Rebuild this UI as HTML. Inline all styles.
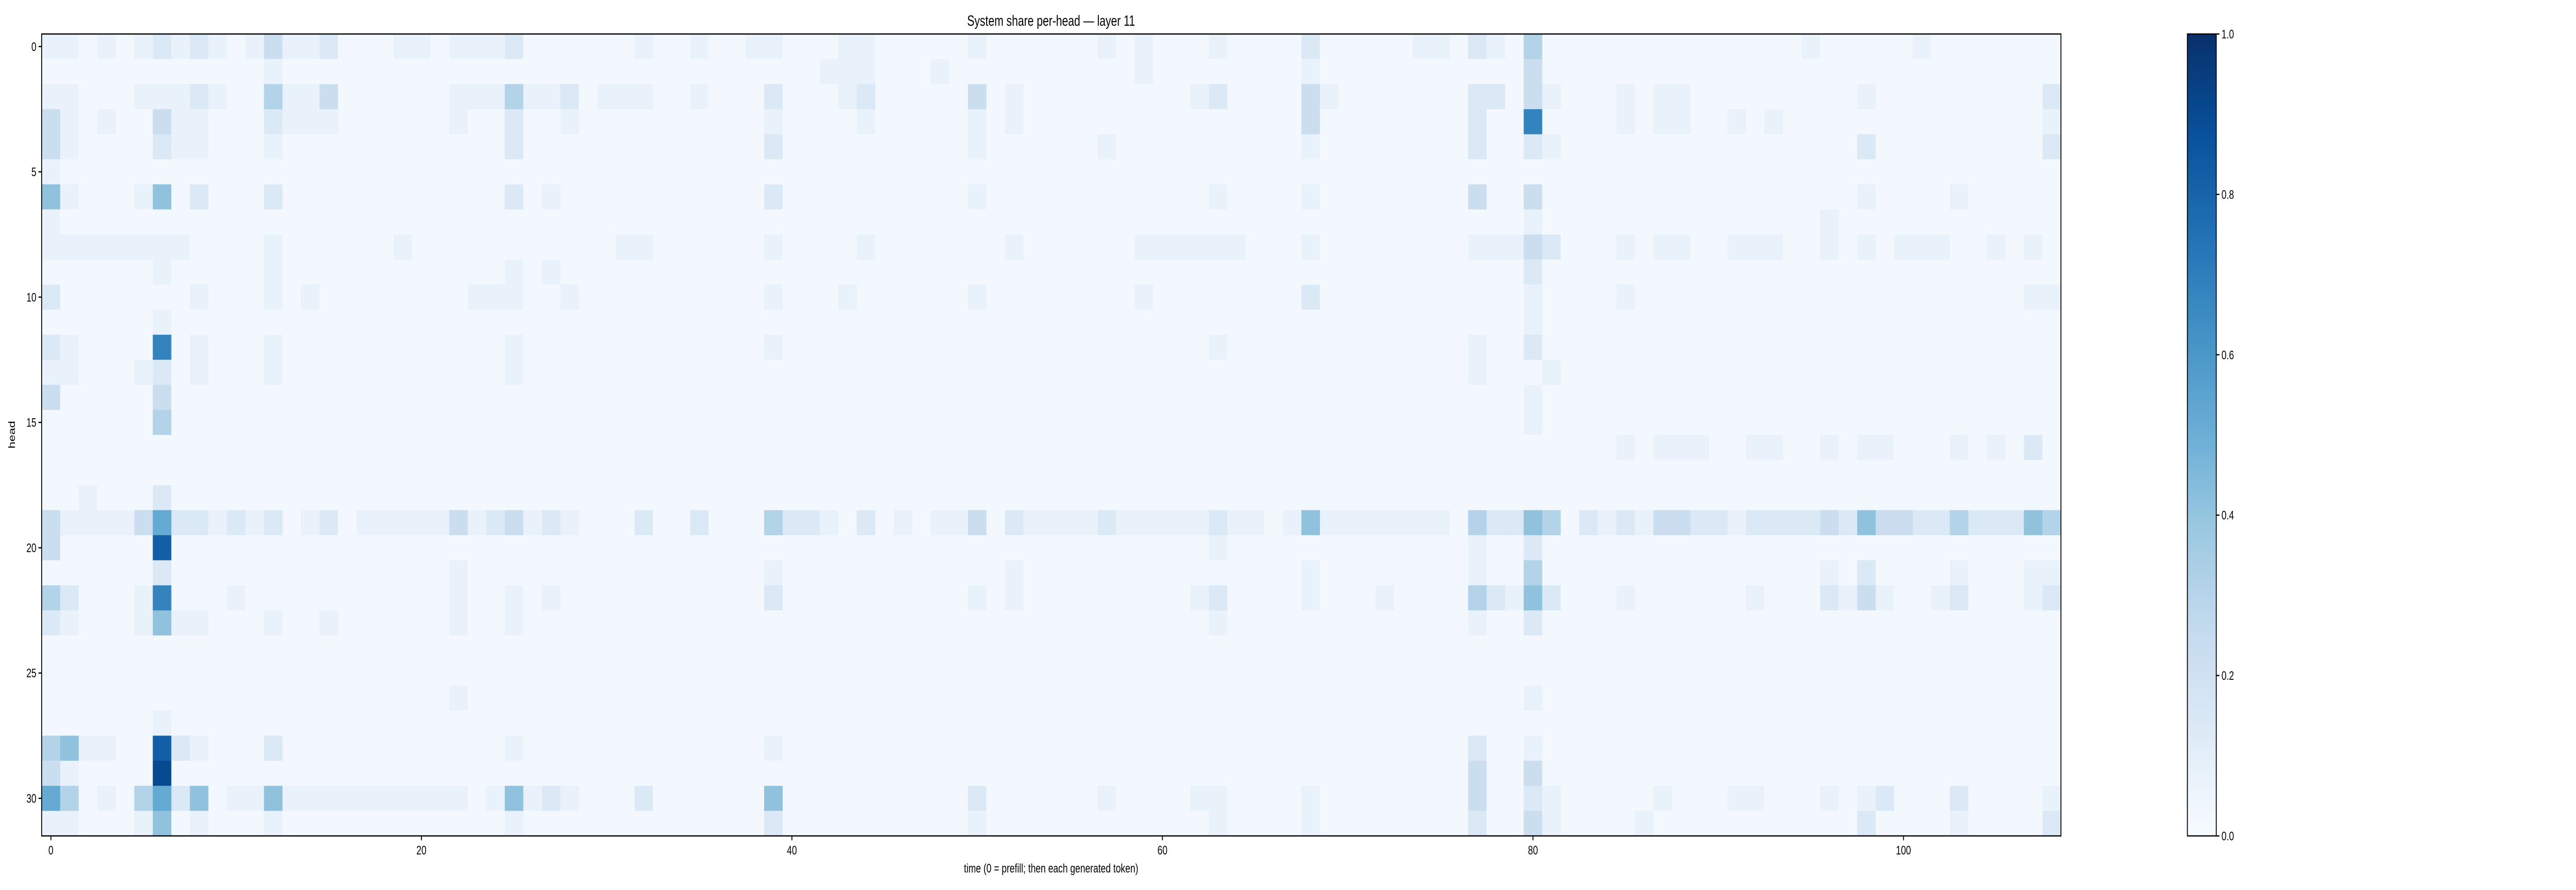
<!DOCTYPE html>
<html><head><meta charset="utf-8"><style>
html,body{margin:0;padding:0;background:#fff;width:100%;height:100%;overflow:hidden;}
svg{display:block;width:100vw;height:100vh;font-family:"Liberation Sans",sans-serif;}
</style></head><body>
<svg id="chart" viewBox="0 0 6867 1728" preserveAspectRatio="none" xmlns="http://www.w3.org/2000/svg">
<defs>
<linearGradient id="cbgrad" x1="0" y1="1" x2="0" y2="0">
<stop offset="0" stop-color="#f7fbff"/><stop offset="0.125" stop-color="#deebf7"/><stop offset="0.25" stop-color="#c6dbef"/><stop offset="0.375" stop-color="#9ecae1"/><stop offset="0.5" stop-color="#6baed6"/><stop offset="0.625" stop-color="#4292c6"/><stop offset="0.75" stop-color="#2171b5"/><stop offset="0.875" stop-color="#08519c"/><stop offset="1" stop-color="#08306b"/>
</linearGradient>
</defs>
<text x="2802" y="50" font-size="29" text-anchor="middle">System share per-head — layer 11</text>
<g id="cells"></g>
<rect x="111" y="66" width="5383" height="1557" fill="none" stroke="#000" stroke-width="2.4"/>
<g id="xticks"></g>
<g id="yticks"></g>
<text x="2802" y="1694" font-size="24" text-anchor="middle">time (0 = prefill; then each generated token)</text>
<text transform="translate(40,844) rotate(-90)" font-size="24" text-anchor="middle">head</text>
<rect x="5831" y="66" width="77" height="1557" fill="url(#cbgrad)" stroke="#000" stroke-width="2.4"/>
<g id="cbticks"></g>
</svg>
<script>
// level code -> value
const levelValues = {"0":0.02,"1":0.07,"2":0.14,"3":0.23,"4":0.31,"5":0.41,"6":0.52,"7":0.68,"8":0.82,"9":0.9};
const xTickLabels = [0,20,40,60,80,100];
const yTickLabels = [0,5,10,15,20,25,30];
const cbTickLabels = ["0.0","0.2","0.4","0.6","0.8","1.0"];
const cbTickValues = [0,0.2,0.4,0.6,0.8,1.0];
const Z28="0000000000000000000000000000", Z25="0000000000000000000000000";
const rowCodes = [
["1101012121013112000110111200","0000100100110001100000100000","0101000100002000001102104000","0000000000010000010000000"],
["0000000000001000000000000000","0000000000000011100010000000","0001000000001000000000003000",Z25],
["1100011121004113000000111411","2011100100020001200000301000","0000001200003100000002203100","0101100000000010000000002"],
["3101003110002111000000100200","1000000000010000100000101000","0000000000003000000002007000","0101100101000000000000001"],
["3100002110001000000000000200","0000000000020000000000100000","0100000000001000000002002100","0000000000000020000000002"],
["1000000000000000000000000000",Z28,Z28,Z25],
["5100015020002000000000000201","0000000000020000000000100000","0000000100001000000003003000","0000000000000010000100000"],
["1000000000000000000000000000",Z28,"0000000000000000000000001000","0000000000001000000000000"],
["1111111100001000000100000000","0001100000010000100000001000","0001111110001000000001113200","0101100111001010111001010"],
["0000001000001000000000000101",Z28,"0000000000000000000000002000",Z25],
["2000000010001010000000011100","1000000000010001000000100000","0001000000002000000000001000","0100000000000000000000011"],
["0000001000000000000000000000",Z28,"0000000000000000000000001000",Z25],
["2100007010001000000000000100","0000000000010000000000000000","0000000100000000000001002000",Z25],
["1100012010001000000000000100",Z28,"0000000000000000000001000100",Z25],
["3000003000000000000000000000",Z28,"0000000000000000000000001000",Z25],
["0000004000000000000000000000",Z28,"0000000000000000000000001000",Z25],
[Z28,Z28,Z28,"0101110011001011000101020"],
[Z28,Z28,Z28,Z25],
["0010002000000000000000000000",Z28,Z28,Z25],
["3111136221212012011111312312","1000200200042210201011302111","1211111211015111111104225402","1213322122223253322422254"],
["3000008000000000000000000000",Z28,"0000000100000000000001002000",Z25],
["0000002000000000000000100000","0000000000010000000000001000","0000000000001000000001004000","0000000000001020000100011"],
["4200017000100000000000100101","0000000000020000000000101000","0000001200001000100004215200","0100000010002131001200012"],
["2100015110001001000000100100",Z28,"0000000100000000000001002000",Z25],
[Z28,Z28,Z28,Z25],
[Z28,Z28,Z28,Z25],
["0000000000000000000000100000",Z28,"0000000000000000000000001000",Z25],
["0000001000000000000000000000",Z28,Z28,Z25],
["4511008210002000000000000100","0000000000010000000000000000","0000000000000000000002001000",Z25],
["3100009000000000000000000000",Z28,"0000000000000000000003003000",Z25],
["6401046250115111111111101512","1000200000050000000000200000","0100001100001000000003002100","0001000110001012000200001"],
["1100015010001000000000000100","0000000000020000000000100000","0000000100001000000002003100","0010000000000020000100002"]
];
const values = rowCodes.map(r => r.join("").split("").map(c => levelValues[c]));

const NS="http://www.w3.org/2000/svg";
const X0=111,X1=5494,Y0=66,Y1=1623;
const nCols=values[0].length, nRows=values.length;
const cw=(X1-X0)/nCols, rh=(Y1-Y0)/nRows;
const xPos = c => X0 + c*cw;
const yPos = r => Y0 + r*rh;
const stops=[[247,251,255],[222,235,247],[198,219,239],[158,202,225],[107,174,214],[66,146,198],[33,113,181],[8,81,156],[8,48,107]];
function blues(v){v=Math.max(0,Math.min(1,v));const t=v*8,i=Math.min(7,Math.floor(t)),f=t-i;const a=stops[i],b=stops[i+1];
return "rgb("+a.map((x,k)=>Math.round(x+(b[k]-x)*f)).join(",")+")";}
const cells=document.getElementById("cells");
for(let r=0;r<nRows;r++){for(let c=0;c<nCols;c++){
const el=document.createElementNS(NS,"rect");


const x=xPos(c), y=yPos(r);
const w=Math.min(cw+0.6, X1-x), h=Math.min(rh+0.6, Y1-y);
el.setAttribute("x",x);el.setAttribute("y",y);
el.setAttribute("width",w);el.setAttribute("height",h);
el.setAttribute("fill",blues(values[r][c]));cells.appendChild(el);}}
function line(g,x1,y1,x2,y2){const l=document.createElementNS(NS,"line");


l.setAttribute("x1",x1);l.setAttribute("y1",y1);l.setAttribute("x2",x2);l.setAttribute("y2",y2);
l.setAttribute("stroke","#000");l.setAttribute("stroke-width","2.4");g.appendChild(l);}
function text(g,x,y,s,anchor){const t=document.createElementNS(NS,"text");


t.setAttribute("x",x);t.setAttribute("y",y);t.setAttribute("font-size","24");t.setAttribute("text-anchor",anchor);
t.textContent=s;g.appendChild(t);}
const gx=document.getElementById("xticks");
xTickLabels.forEach(v=>{const x=xPos(v+0.5);line(gx,x,Y1,x,Y1+8.5);text(gx,x,Y1+36,String(v),"middle");});
const gy=document.getElementById("yticks");
yTickLabels.forEach(v=>{const y=yPos(v+0.5);line(gy,X0,y,X0-8.5,y);text(gy,X0-14,y+8.5,String(v),"end");});
const gc=document.getElementById("cbticks");
cbTickValues.forEach((v,i)=>{const y=Y1-(Y1-Y0)*v;line(gc,5908,y,5916.5,y);text(gc,5922,y+8.5,cbTickLabels[i],"start");});
</script>
</body></html>
